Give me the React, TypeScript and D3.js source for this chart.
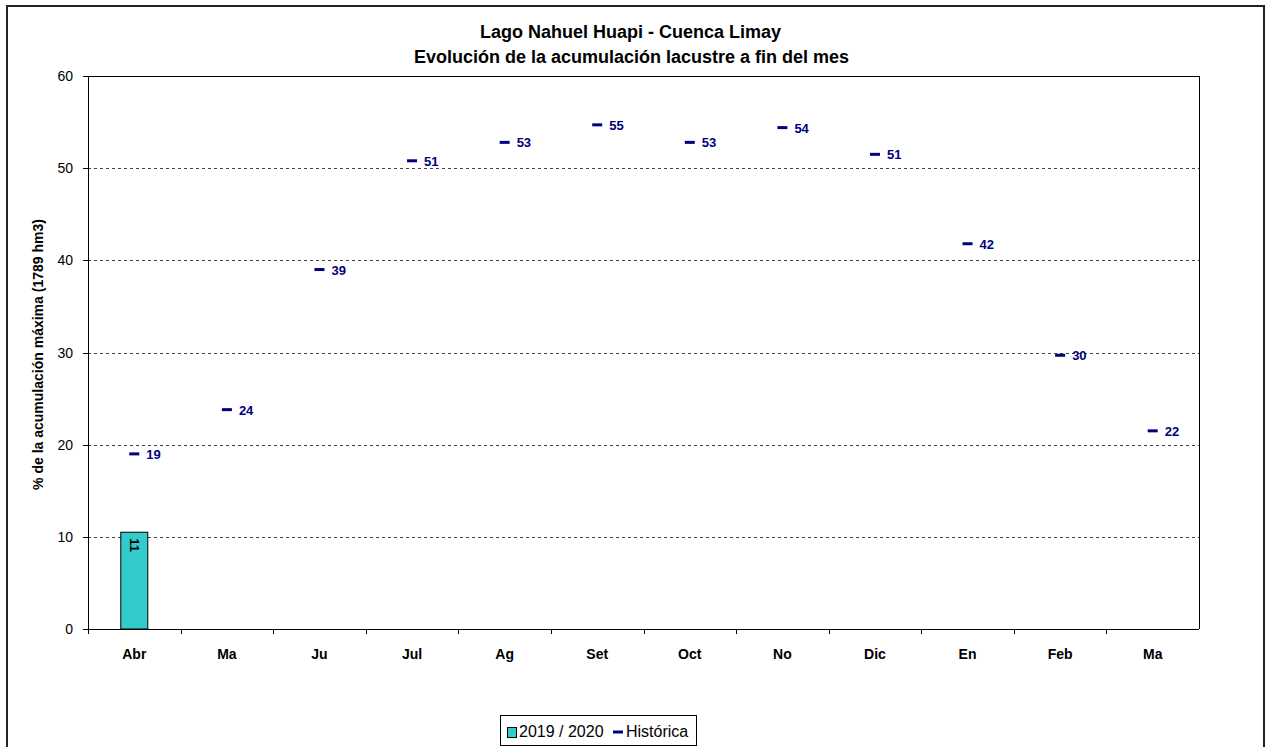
import React from "react";
import * as d3 from "d3";

const categories = ["Abr", "Ma", "Ju", "Jul", "Ag", "Set", "Oct", "No", "Dic", "En", "Feb", "Ma "];
const actual2019: (number | null)[] = [10.5, null, null, null, null, null, null, null, null, null, null, null];
const actualLabels: (string | null)[] = ["11", null, null, null, null, null, null, null, null, null, null, null];
const historica = [19.0, 23.8, 39.0, 50.8, 52.8, 54.7, 52.8, 54.4, 51.5, 41.8, 29.7, 21.5];
const historicaLabels = ["19", "24", "39", "51", "53", "55", "53", "54", "51", "42", "30", "22"];
const yTicks = [0, 10, 20, 30, 40, 50, 60];

const W = 1266;
const H = 747;
const left = 88;
const right = 1199;
const top = 76;
const bottom = 629;
const font = "'Liberation Sans', Arial, sans-serif";

export default function App() {
  const x = d3.scaleBand<string>().domain(categories).range([left, right]).paddingInner(0).paddingOuter(0);
  const y = d3.scaleLinear().domain([0, 60]).range([bottom, top]);
  const bw = x.bandwidth();
  const barW = 27;
  const navy = "#000080";

  return (
    <svg width={W} height={H} style={{ position: "absolute", left: 0, top: 0, display: "block", background: "#fff" }} fontFamily={font}>
      <rect x={7} y={6} width={1257} height={760} fill="#fff" stroke="#222" strokeWidth={2} />
      <text x={630.5} y={38} textAnchor="middle" fontWeight="bold" fontSize={18}>Lago Nahuel Huapi - Cuenca Limay</text>
      <text x={631.5} y={63} textAnchor="middle" fontWeight="bold" fontSize={18}>Evolución de la acumulación lacustre a fin del mes</text>

      {/* gridlines */}
      {yTicks.filter((t) => t > 0 && t < 60).map((t) => (
        <line key={"g" + t} x1={left} x2={right} y1={Math.round(y(t)) + 0.5} y2={Math.round(y(t)) + 0.5} stroke="#444" strokeDasharray="3,3" strokeWidth={1} />
      ))}
      {/* plot border */}
      <line x1={left} x2={right} y1={top + 0.5} y2={top + 0.5} stroke="#000" />
      <line x1={right + 0.5} x2={right + 0.5} y1={top} y2={bottom} stroke="#000" />

      {/* bars */}
      {actual2019.map((v, i) =>
        v == null ? null : (
          <g key={"b" + i}>
            <rect x={(x(categories[i]) as number) + bw / 2 - barW / 2} y={y(v)} width={barW} height={bottom - y(v)} fill="#33CCCC" stroke="#000" strokeWidth={1} />
            <text transform={`translate(${(x(categories[i]) as number) + bw / 2 - 4.5},${y(v) + 6}) rotate(90)`} fontWeight="bold" fontSize={13} fill="#000">{actualLabels[i]}</text>
          </g>
        )
      )}

      {/* historica markers */}
      {historica.map((v, i) => {
        const cx = (x(categories[i]) as number) + bw / 2;
        return (
          <g key={"h" + i}>
            <rect x={cx - 5} y={y(v) - 1.5} width={10} height={3} fill={navy} />
            <text x={cx + 12} y={y(v) + 5} fontWeight="bold" fontSize={13} fill={navy}>{historicaLabels[i]}</text>
          </g>
        );
      })}

      {/* axes */}
      <line x1={left + 0.5} x2={left + 0.5} y1={top} y2={bottom + 5} stroke="#000" />
      <line x1={left - 5} x2={right} y1={bottom + 0.5} y2={bottom + 0.5} stroke="#000" />
      {yTicks.map((t) => (
        <g key={"yt" + t}>
          <line x1={left - 5} x2={left} y1={Math.round(y(t)) + 0.5} y2={Math.round(y(t)) + 0.5} stroke="#000" />
          <text x={left - 15} y={y(t) + 5} textAnchor="end" fontSize={14}>{t}</text>
        </g>
      ))}
      {categories.map((c, i) => (
        <g key={"xt" + i}>
          <line x1={Math.round(x(c) as number) + 0.5} x2={Math.round(x(c) as number) + 0.5} y1={bottom} y2={bottom + 5} stroke="#000" />
          <text x={(x(c) as number) + bw / 2} y={659} textAnchor="middle" fontWeight="bold" fontSize={14}>{c.trim()}</text>
        </g>
      ))}
      <text transform={`translate(43,${(top + bottom) / 2 + 2}) rotate(-90)`} textAnchor="middle" fontWeight="bold" fontSize={14}>% de la acumulación máxima (1789 hm3)</text>

      {/* legend */}
      <rect x={500.5} y={715.5} width={196} height={30} fill="#fff" stroke="#000" />
      <rect x={507.5} y={727.5} width={9} height={10} fill="#33CCCC" stroke="#000" />
      <text x={519} y={737} fontSize={16}>2019 / 2020</text>
      <rect x={613} y={730.5} width={10} height={3} fill={navy} />
      <text x={626} y={737} fontSize={16}>Histórica</text>
    </svg>
  );
}
